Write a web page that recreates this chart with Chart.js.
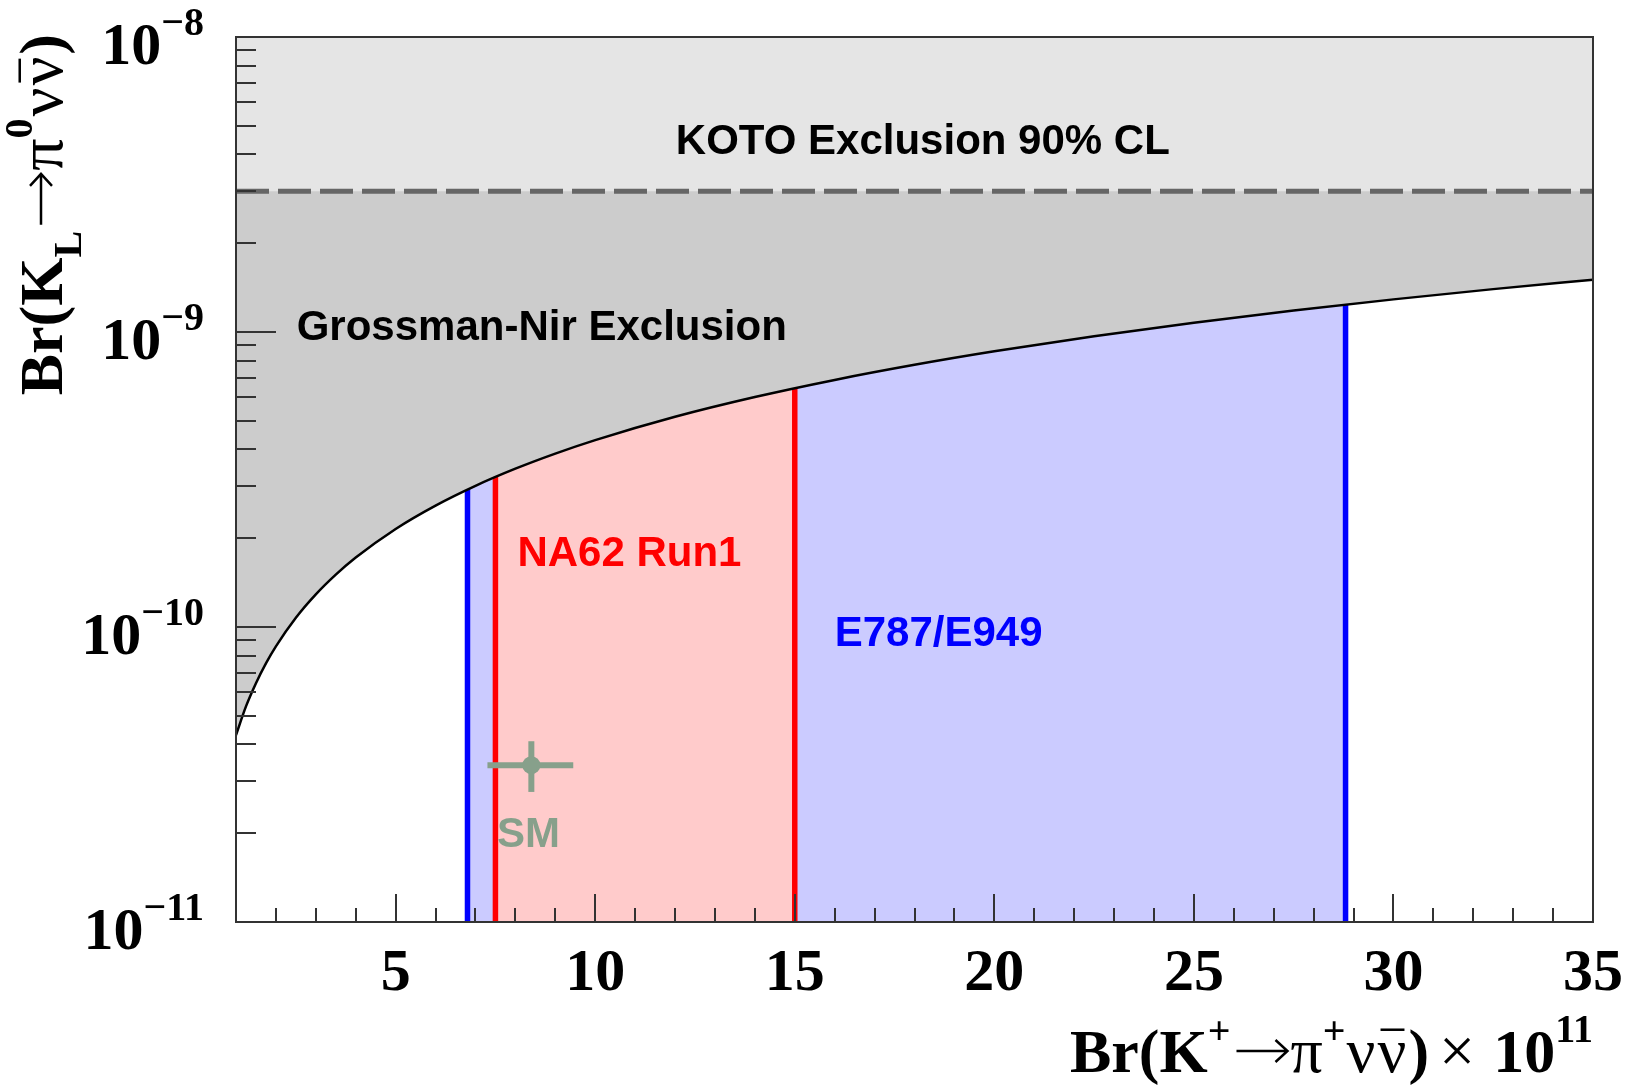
<!DOCTYPE html>
<html>
<head>
<meta charset="utf-8">
<title>Br(KL) vs Br(K+)</title>
<script src="https://cdn.jsdelivr.net/npm/chart.js@4.4.0/dist/chart.umd.min.js"></script>
<style>
  html, body { margin: 0; padding: 0; background: #fff; }
  #wrap { width: 1631px; height: 1087px; }
</style>
</head>
<body>
<div id="wrap"><canvas id="myChart" width="1631" height="1087"></canvas></div>
<script>
// Br(K+ -> pi+ nu nubar) in units of 1e-11, Br(KL -> pi0 nu nubar) absolute
const xRange = [1, 35];
const yRange = [1e-11, 1e-8];

// Grossman-Nir bound
const gnX = [1, 1.25, 1.5, 1.75, 2, 2.5, 3, 3.5, 4, 5, 6, 7, 8, 9, 10, 12, 14, 16, 18, 20, 22.5, 25, 27.5, 30, 32.5, 35];
const gnY = [4.30e-11, 5.38e-11, 6.45e-11, 7.53e-11, 8.60e-11, 1.075e-10, 1.29e-10, 1.505e-10, 1.72e-10, 2.15e-10,
  2.58e-10, 3.01e-10, 3.44e-10, 3.87e-10, 4.30e-10, 5.16e-10, 6.02e-10, 6.88e-10, 7.74e-10, 8.60e-10,
  9.675e-10, 1.075e-9, 1.1825e-9, 1.29e-9, 1.3975e-9, 1.505e-9];

const kotoLimit = 3.0e-9;
const e949Band = [6.8, 28.8];
const na62Band = [7.5, 15.0];

// standard model prediction
const smPoint = [8.4, 3.4e-11];
const smXErr = [7.3, 9.45];
const smYErr = [2.76e-11, 4.1e-11];

const xMajorTicks = [5, 10, 15, 20, 25, 30, 35];
const yDecades = [-11, -10, -9, -8];

const smColor = "#87a08b";
const serif = "'Liberation Serif', 'Times New Roman', serif";
const sans = "'Liberation Sans', Arial, Helvetica, sans-serif";

const pts = (xs, ys) => xs.map((x, i) => ({ x: x, y: ys[i] }));
const vline = (x) => [{ x: x, y: yRange[0] }, { x: x, y: yRange[1] }];

// text with sub/superscripts, overlines and a drawn arrow, piece by piece
const partFont = (p) => (p.thin ? "" : "bold ") + p.size + "px " + serif;
const partWidth = (ctx, p) => {
  if (p.arrow) return p.arrow;
  ctx.font = partFont(p);
  return ctx.measureText(p.t).width;
};
const drawRich = (ctx, parts, x, y, align) => {
  let total = 0;
  parts.forEach((p) => { total += partWidth(ctx, p) + (p.gap || 0); });
  let cx = align === "right" ? x - total : align === "center" ? x - total / 2 : x;
  ctx.textAlign = "left";
  ctx.textBaseline = "alphabetic";
  parts.forEach((p) => {
    const w = partWidth(ctx, p);
    if (p.arrow) {
      const ay = y - 21;
      ctx.save();
      ctx.lineWidth = 2.5;
      ctx.strokeStyle = ctx.fillStyle;
      ctx.beginPath();
      ctx.moveTo(cx + 3, ay);
      ctx.lineTo(cx + w - 4, ay);
      ctx.moveTo(cx + w - 15, ay - 11);
      ctx.lineTo(cx + w - 3, ay);
      ctx.lineTo(cx + w - 15, ay + 11);
      ctx.stroke();
      ctx.restore();
    } else {
      ctx.font = partFont(p);
      ctx.fillText(p.t, cx, y - (p.rise || 0));
      if (p.bar) {
        ctx.fillRect(cx + 3, y - p.size * 0.68, w - 5, 2.5);
      }
    }
    cx += w + (p.gap || 0);
  });
};

const frameAndLabels = {
  id: "frameAndLabels",
  afterDatasetsDraw(chart) {
    const ctx = chart.ctx;
    const xs = chart.scales.x;
    const ys = chart.scales.y;
    ctx.save();
    ctx.textBaseline = "alphabetic";
    ctx.textAlign = "left";

    ctx.font = "bold 42px " + sans;
    ctx.fillStyle = "#000";
    ctx.fillText("KOTO Exclusion 90% CL", xs.getPixelForValue(12.02), ys.getPixelForValue(4.0e-9));
    ctx.fillText("Grossman-Nir Exclusion", xs.getPixelForValue(2.52), ys.getPixelForValue(9.4e-10));
    ctx.fillStyle = "#ff0000";
    ctx.fillText("NA62 Run1", xs.getPixelForValue(8.05), ys.getPixelForValue(1.61e-10));
    ctx.fillStyle = "#0000ff";
    ctx.fillText("E787/E949", xs.getPixelForValue(16.0), ys.getPixelForValue(8.6e-11));
    ctx.fillStyle = smColor;
    ctx.fillText("SM", xs.getPixelForValue(7.54), ys.getPixelForValue(1.8e-11));
    ctx.restore();
  },
  afterDraw(chart) {
    const ctx = chart.ctx;
    const area = chart.chartArea;
    const xs = chart.scales.x;
    const ys = chart.scales.y;
    ctx.save();
    ctx.strokeStyle = "#333";
    ctx.lineWidth = 2;
    ctx.strokeRect(area.left, area.top, area.right - area.left, area.bottom - area.top);

    // x ticks, inside the frame
    ctx.beginPath();
    for (let v = Math.ceil(xRange[0]); v <= xRange[1]; v++) {
      const px = Math.round(xs.getPixelForValue(v));
      const len = v % 5 === 0 ? 28 : 14;
      ctx.moveTo(px, area.bottom);
      ctx.lineTo(px, area.bottom - len);
    }
    // y ticks, log decades with minors
    yDecades.forEach((d) => {
      for (let m = 1; m <= 9; m++) {
        const v = m * Math.pow(10, d);
        if (v < yRange[0] * 0.999 || v > yRange[1] * 1.001) continue;
        const py = Math.round(ys.getPixelForValue(v));
        const len = m === 1 ? 40 : 20;
        ctx.moveTo(area.left, py);
        ctx.lineTo(area.left + len, py);
      }
    });
    ctx.stroke();

    ctx.fillStyle = "#000";
    ctx.textAlign = "center";
    ctx.font = "bold 60px " + serif;
    xMajorTicks.forEach((v) => {
      ctx.fillText(String(v), xs.getPixelForValue(v), area.bottom + 68);
    });

    yDecades.forEach((d) => {
      const py = ys.getPixelForValue(Math.pow(10, d));
      drawRich(ctx, [
        { t: "10", size: 60 },
        { t: "\u2212" + Math.abs(d), size: 40, rise: 29 }
      ], area.left - 32, py + 27, "right");
    });

    // axis titles
    drawRich(ctx, [
      { t: "Br(K", size: 62 },
      { t: "+", size: 40, rise: 28, gap: 3 },
      { arrow: 57 },
      { t: "\u03c0", size: 64, thin: true },
      { t: "+", size: 40, rise: 28, gap: 1 },
      { t: "\u03bd", size: 64, thin: true, gap: 2 },
      { t: "\u03bd", size: 64, thin: true, bar: true, gap: 2 },
      { t: ")", size: 62, gap: 10 },
      { t: "\u00d7", size: 64, thin: true, gap: 18 },
      { t: "10", size: 62 },
      { t: "11", size: 40, rise: 30 }
    ], area.right, 1072, "right");

    ctx.save();
    ctx.translate(62, 34);
    ctx.rotate(-Math.PI / 2);
    drawRich(ctx, [
      { t: "Br(K", size: 62 },
      { t: "L", size: 40, rise: -19, gap: 3 },
      { arrow: 57 },
      { t: "\u03c0", size: 64, thin: true },
      { t: "0", size: 40, rise: 30, gap: 2 },
      { t: "\u03bd", size: 64, thin: true, gap: 2 },
      { t: "\u03bd", size: 64, thin: true, bar: true, gap: 2 },
      { t: ")", size: 62 }
    ], 0, 0, "right");
    ctx.restore();

    ctx.restore();
  }
};

const data = {
  datasets: [
    {
      label: "SM",
      data: [{ x: smPoint[0], y: smPoint[1] }],
      showLine: false,
      pointRadius: 9,
      pointBackgroundColor: smColor,
      pointBorderWidth: 0
    },
    {
      label: "SM x error",
      data: [{ x: smXErr[0], y: smPoint[1] }, { x: smXErr[1], y: smPoint[1] }],
      borderColor: smColor,
      borderWidth: 6
    },
    {
      label: "SM y error",
      data: [{ x: smPoint[0], y: smYErr[0] }, { x: smPoint[0], y: smYErr[1] }],
      borderColor: smColor,
      borderWidth: 6
    },
    {
      label: "KOTO",
      data: [{ x: xRange[0], y: kotoLimit }, { x: xRange[1], y: kotoLimit }],
      borderColor: "#666666",
      borderWidth: 5,
      borderDash: [33, 9],
      fill: "end",
      backgroundColor: "#e5e5e5"
    },
    {
      label: "Grossman-Nir",
      data: pts(gnX, gnY),
      borderColor: "#000000",
      borderWidth: 2.5,
      cubicInterpolationMode: "monotone",
      fill: "end",
      backgroundColor: "#cccccc"
    },
    {
      label: "NA62 low",
      data: vline(na62Band[0]),
      borderColor: "#ff0000",
      borderWidth: 5.5
    },
    {
      label: "NA62 high",
      data: vline(na62Band[1]),
      borderColor: "#ff0000",
      borderWidth: 5.5
    },
    {
      label: "NA62 Run1",
      data: [{ x: na62Band[0], y: yRange[1] }, { x: na62Band[1], y: yRange[1] }],
      borderColor: "transparent",
      borderWidth: 0,
      fill: "start",
      backgroundColor: "#ffcbcb"
    },
    {
      label: "E949 low",
      data: vline(e949Band[0]),
      borderColor: "#0000ff",
      borderWidth: 5.5
    },
    {
      label: "E949 high",
      data: vline(e949Band[1]),
      borderColor: "#0000ff",
      borderWidth: 5.5
    },
    {
      label: "E787/E949",
      data: [{ x: e949Band[0], y: yRange[1] }, { x: e949Band[1], y: yRange[1] }],
      borderColor: "transparent",
      borderWidth: 0,
      fill: "start",
      backgroundColor: "#cbcbff"
    }
  ]
};

const config = {
  type: "line",
  data: data,
  options: {
    responsive: false,
    animation: false,
    events: [],
    layout: {
      padding: { left: 236, top: 37, right: 38, bottom: 165 }
    },
    elements: {
      point: { radius: 0 },
      line: { borderCapStyle: "butt", tension: 0 }
    },
    plugins: {
      legend: { display: false },
      tooltip: { enabled: false }
    },
    scales: {
      x: { type: "linear", min: xRange[0], max: xRange[1], display: false },
      y: { type: "logarithmic", min: yRange[0], max: yRange[1], display: false }
    }
  },
  plugins: [frameAndLabels]
};

const ctx = document.getElementById("myChart").getContext("2d");
const myChart = new Chart(ctx, config);
</script>
</body>
</html>
